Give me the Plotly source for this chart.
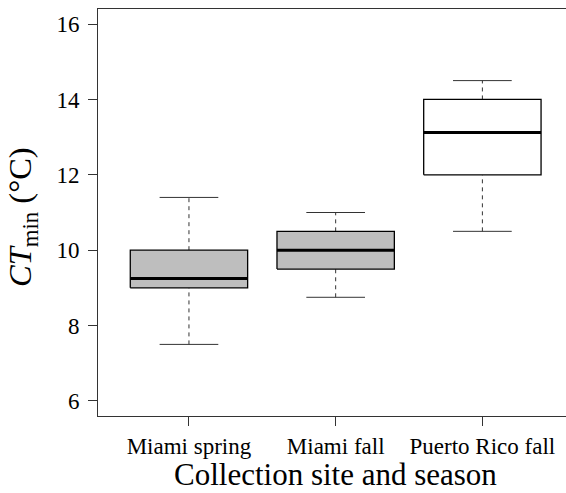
import plotly.graph_objects as go

categories = ["Miami spring", "Miami fall", "Puerto Rico fall"]
lower_whisker = [7.5, 8.75, 10.5]
q1 = [9.0, 9.5, 12.0]
median = [9.25, 10.0, 13.12]
q3 = [10.0, 10.5, 14.0]
upper_whisker = [11.4, 11.0, 14.5]
box_fill = ["#BEBEBE", "#BEBEBE", "#FFFFFF"]
y_ticks = [6, 8, 10, 12, 14, 16]

FONT = "Liberation Serif, Times New Roman, serif"
BOX_HALF = 0.4
CAP_HALF = 0.2

fig = go.Figure()
for i, cat in enumerate(categories):
    x = i + 1
    # whiskers (dashed)
    fig.add_trace(go.Scatter(
        x=[x, x, None, x, x],
        y=[lower_whisker[i], q1[i], None, q3[i], upper_whisker[i]],
        mode="lines", line=dict(color="#333333", width=1, dash="4px,4px"),
        hoverinfo="skip", showlegend=False))
    # caps
    fig.add_trace(go.Scatter(
        x=[x - CAP_HALF, x + CAP_HALF, None, x - CAP_HALF, x + CAP_HALF],
        y=[lower_whisker[i], lower_whisker[i], None, upper_whisker[i], upper_whisker[i]],
        mode="lines", line=dict(color="#333333", width=1),
        hoverinfo="skip", showlegend=False))
    # box
    fig.add_trace(go.Scatter(
        x=[x - BOX_HALF, x + BOX_HALF, x + BOX_HALF, x - BOX_HALF, x - BOX_HALF],
        y=[q1[i], q1[i], q3[i], q3[i], q1[i]],
        mode="lines", fill="toself", fillcolor=box_fill[i],
        line=dict(color="#000000", width=1.3),
        name=cat, showlegend=False))
    # median
    fig.add_trace(go.Scatter(
        x=[x - BOX_HALF, x + BOX_HALF],
        y=[median[i], median[i]],
        mode="lines", line=dict(color="#000000", width=3),
        hoverinfo="skip", showlegend=False))

fig.update_layout(
    width=566, height=493,
    margin=dict(l=98, r=0, t=9, b=77),
    paper_bgcolor="white", plot_bgcolor="white",
    font=dict(family=FONT, color="black", size=23),
    showlegend=False,
    xaxis=dict(
        range=[0.38, 3.57], tickvals=[1, 2, 3], ticktext=categories,
        showgrid=False, zeroline=False, showline=True, linecolor="#333333",
        linewidth=1, mirror=True, ticks="outside", ticklen=9, tickcolor="#333333",
        tickfont=dict(size=23, family=FONT), ticklabelstandoff=0),
    yaxis=dict(
        range=[5.6, 16.4], tickvals=y_ticks, ticktext=[str(v) for v in y_ticks],
        showgrid=False, zeroline=False, showline=True, linecolor="#333333",
        linewidth=1, mirror=False, ticks="outside", ticklen=9, tickcolor="#333333",
        tickfont=dict(size=23, family=FONT), ticklabelstandoff=4),
    annotations=[
        dict(text="Collection site and season", xref="paper", yref="paper",
             x=0.5085, y=0, yshift=-39, xanchor="center", yanchor="top",
             showarrow=False, font=dict(size=31, family=FONT)),
        dict(text="<i>CT</i><sub>min</sub> (°C)", xref="paper", yref="paper",
             x=0, xshift=-75, y=0.489, xanchor="center", yanchor="middle",
             textangle=-90, showarrow=False, font=dict(size=32.5, family=FONT)),
    ],
)

fig.write_html("out.html")
